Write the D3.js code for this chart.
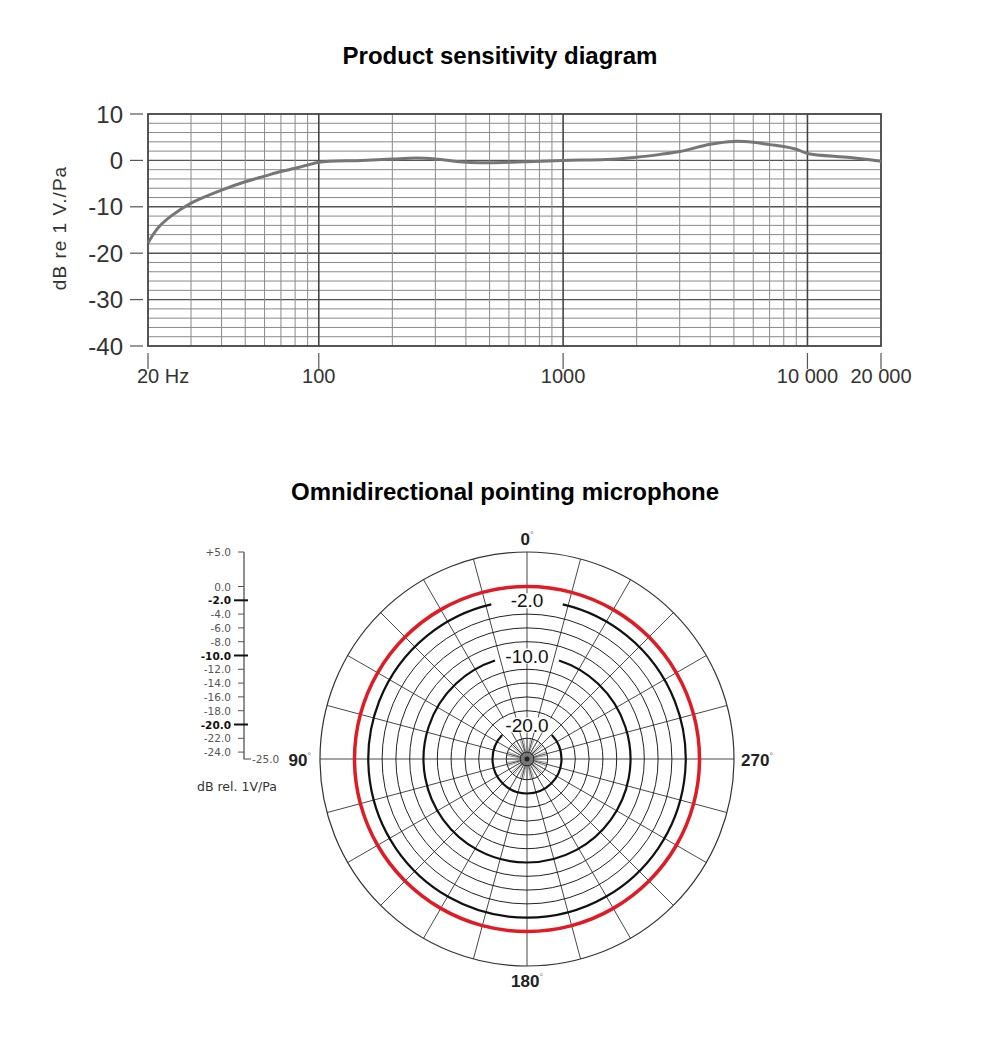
<!DOCTYPE html>
<html lang="en">
<head>
<meta charset="UTF-8">
<title>Microphone sensitivity</title>
<script src="https://d3js.org/d3.v7.min.js"></script>
<style>
    body { margin: 0; background: #fff; font-family: "Liberation Sans", Arial, sans-serif; }
    svg { display: block; }
</style>
</head>
<body>
<div id="chart"></div>
<script>
// Frequency response (Hz -> dB re 1 V/Pa)
const freqs = [20, 22, 25, 30, 40, 50, 60, 70, 80, 90, 100, 150, 200, 250, 300, 400, 500, 700,
               1000, 1500, 2000, 2500, 3000, 4000, 5000, 6000, 7000, 8000, 9000, 10000, 15000, 20000];
const sens = [-17.8, -14.5, -11.9, -9.2, -6.4, -4.6, -3.4, -2.4, -1.7, -1.0, -0.4, 0.0, 0.3, 0.5, 0.3, -0.4, -0.5, -0.3,
              0.0, 0.2, 0.7, 1.3, 1.9, 3.5, 4.1, 3.9, 3.4, 3.0, 2.4, 1.5, 0.6, -0.2];
const yTicks = [10, 0, -10, -20, -30, -40];
const xTicks = [20, 100, 1000, 10000, 20000];
const xTickLabels = ["20 Hz", "100", "1000", "10 000", "20 000"];

// Polar pattern (angle deg -> dB)
const polarAngles = [0, 15, 30, 45, 60, 75, 90, 105, 120, 135, 150, 165, 180,
                     195, 210, 225, 240, 255, 270, 285, 300, 315, 330, 345];
const polarResp = [0, 0, 0, 0, 0, 0, 0, 0, 0, 0, 0, 0, 0,
                   0, 0, 0, 0, 0, 0, 0, 0, 0, 0, 0];
const ringsThin = [-4, -6, -8, -12, -14, -16, -18, -22, -24];
const ringsBold = [-2, -10, -20];
const ringBoldLabels = ["-2.0", "-10.0", "-20.0"];
const ringGapDeg = [13, 18, 46];
const scaleTicks = [5, 0, -2, -4, -6, -8, -10, -12, -14, -16, -18, -20, -22, -24];
const scaleLabels = ["+5.0", "0.0", "-2.0", "-4.0", "-6.0", "-8.0", "-10.0", "-12.0", "-14.0", "-16.0", "-18.0", "-20.0", "-22.0", "-24.0"];
const angleLabels = [{t: "0", a: 0}, {t: "90", a: 90}, {t: "180", a: 180}, {t: "270", a: 270}];

const W = 1000, H = 1039;
const svg = d3.select("#chart").append("svg").attr("width", W).attr("height", H);

// ---------- Top: sensitivity diagram ----------
svg.append("text")
    .attr("x", 500).attr("y", 64)
    .attr("text-anchor", "middle")
    .style("font-size", "24px").style("font-weight", "bold").style("fill", "#000")
    .text("Product sensitivity diagram");

const x = d3.scaleLog().domain([20, 20000]).range([148, 881]);
const y = d3.scaleLinear().domain([-40, 10]).range([346, 114]);

const grid = svg.append("g");

// horizontal grid every 2 dB
d3.range(-38, 10, 2).forEach(v => {
    grid.append("line")
        .attr("x1", x(20)).attr("x2", x(20000))
        .attr("y1", y(v)).attr("y2", y(v))
        .attr("stroke", v % 10 === 0 ? "#555" : "#8a8a8a")
        .attr("stroke-width", v % 10 === 0 ? 1.4 : 1);
});

// vertical grid: 2..9 multiples of each decade
const minorF = [];
[10, 100, 1000, 10000].forEach(dec => {
    for (let m = 1; m <= 9; m++) {
        const f = dec * m;
        if (f > 20 && f < 20000) minorF.push(f);
    }
});
minorF.forEach(f => {
    const major = [100, 1000, 10000].includes(f);
    grid.append("line")
        .attr("x1", x(f)).attr("x2", x(f))
        .attr("y1", y(10)).attr("y2", y(-40))
        .attr("stroke", major ? "#444" : "#8a8a8a")
        .attr("stroke-width", major ? 1.6 : 1);
});

// frame
svg.append("rect")
    .attr("x", x(20)).attr("y", y(10))
    .attr("width", x(20000) - x(20)).attr("height", y(-40) - y(10))
    .attr("fill", "none").attr("stroke", "#444").attr("stroke-width", 1.8);

// y ticks and labels
yTicks.forEach(v => {
    svg.append("line")
        .attr("x1", 130).attr("x2", 143)
        .attr("y1", y(v)).attr("y2", y(v))
        .attr("stroke", "#555").attr("stroke-width", 1.2);
    svg.append("text")
        .attr("x", 123).attr("y", y(v) + 8.5)
        .attr("text-anchor", "end")
        .style("font-size", "24px").style("fill", "#333")
        .text(v);
});

// x ticks and labels
xTicks.forEach((f, i) => {
    svg.append("line")
        .attr("x1", x(f)).attr("x2", x(f))
        .attr("y1", 353).attr("y2", 369)
        .attr("stroke", "#555").attr("stroke-width", 1.2);
    svg.append("text")
        .attr("x", i === 0 ? x(f) - 11 : x(f)).attr("y", 383)
        .attr("text-anchor", i === 0 ? "start" : "middle")
        .style("font-size", "20px").style("fill", "#333")
        .text(xTickLabels[i]);
});

svg.append("text")
    .attr("transform", "translate(66,228) rotate(-90)")
    .attr("text-anchor", "middle")
    .style("font-size", "19px").style("letter-spacing", "1px").style("fill", "#333")
    .text("dB re 1 V./Pa");

const line = d3.line()
    .x((d, i) => x(freqs[i]))
    .y(d => y(d))
    .curve(d3.curveCatmullRom.alpha(0.5));

svg.append("path")
    .datum(sens)
    .attr("d", line)
    .attr("fill", "none")
    .attr("stroke", "#767676")
    .attr("stroke-width", 3);

// ---------- Bottom: polar pattern ----------
svg.append("text")
    .attr("x", 505).attr("y", 500)
    .attr("text-anchor", "middle")
    .style("font-size", "24px").style("font-weight", "bold").style("fill", "#000")
    .text("Omnidirectional pointing microphone");

const cx = 527, cy = 759;
const r = d3.scaleLinear().domain([-25, 5]).range([0, 207]);
const polar = svg.append("g").attr("transform", `translate(${cx},${cy})`);

// spokes every 15 deg
polarAngles.forEach(a => {
    const t = a * Math.PI / 180;
    polar.append("line")
        .attr("x1", 0).attr("y1", 0)
        .attr("x2", r(5) * Math.sin(t)).attr("y2", -r(5) * Math.cos(t))
        .attr("stroke", "#333").attr("stroke-width", 0.9);
});
// dense inner spokes
d3.range(0, 360, 10).forEach(a => {
    const t = a * Math.PI / 180;
    polar.append("line")
        .attr("x1", 0).attr("y1", 0)
        .attr("x2", r(-22) * Math.sin(t)).attr("y2", -r(-22) * Math.cos(t))
        .attr("stroke", "#555").attr("stroke-width", 0.6);
});
polar.append("circle").attr("r", 6).attr("fill", "#777");
polar.append("circle").attr("r", 2.5).attr("fill", "#222");

// outer ring
polar.append("circle").attr("r", r(5))
    .attr("fill", "none").attr("stroke", "#333").attr("stroke-width", 1.2);

ringsThin.forEach(v => {
    polar.append("circle").attr("r", r(v))
        .attr("fill", "none").attr("stroke", "#222").attr("stroke-width", 1);
});

ringsBold.forEach((v, i) => {
    const g = ringGapDeg[i] * Math.PI / 180;
    const p = d3.path();
    p.arc(0, 0, r(v), -Math.PI / 2 + g, 3 * Math.PI / 2 - g);
    polar.append("path")
        .attr("d", p.toString())
        .attr("fill", "none").attr("stroke", "#111").attr("stroke-width", 2.2);
    const lbl = polar.append("text")
        .attr("x", 0).attr("y", -r(v) + 7)
        .attr("text-anchor", "middle")
        .style("font-size", "19px").style("fill", "#111")
        .text(ringBoldLabels[i]);
    const bb = lbl.node().getBBox();
    polar.insert("rect", "text")
        .attr("x", bb.x - 2).attr("y", bb.y + 3)
        .attr("width", bb.width + 4).attr("height", bb.height - 6)
        .attr("fill", "#fff");
});
// keep labels above the white boxes
polar.selectAll("text").raise();

// response curve (0 dB, omnidirectional)
const radial = d3.lineRadial()
    .angle((d, i) => polarAngles[i] * Math.PI / 180)
    .radius(d => r(d))
    .curve(d3.curveCardinalClosed);
polar.append("path")
    .datum(polarResp)
    .attr("d", radial)
    .attr("fill", "none")
    .attr("stroke", "#e01b24")
    .attr("stroke-width", 3.5);

// angle labels
angleLabels.forEach(d => {
    let tx = 0, ty = 0, anchor = "middle";
    if (d.a === 0) { ty = -r(5) - 7; }
    if (d.a === 180) { ty = r(5) + 21; }
    if (d.a === 90) { tx = -r(5) - 9; ty = 7; anchor = "end"; }
    if (d.a === 270) { tx = r(5) + 7; ty = 7; anchor = "start"; }
    const t = polar.append("text")
        .attr("x", tx).attr("y", ty)
        .attr("text-anchor", anchor)
        .style("font-size", "17px").style("font-weight", "bold").style("fill", "#222");
    t.append("tspan").text(d.t);
    t.append("tspan").attr("dy", -7).style("font-size", "9px").style("font-weight", "normal")
        .style("fill", "#777").text("°");
});

// left dB scale
const sx = 244;
const scale = svg.append("g").style("font-family", "'DejaVu Sans', sans-serif");
scale.append("path")
    .attr("d", `M${sx},${cy - r(5)} L${sx},${cy} L${sx + 7},${cy}`)
    .attr("fill", "none").attr("stroke", "#444").attr("stroke-width", 1.2);
scaleTicks.forEach((v, i) => {
    const bold = ringsBold.includes(v);
    const ty = cy - r(v);
    scale.append("line")
        .attr("x1", bold ? sx - 10 : sx - 6).attr("x2", bold ? sx + 4 : sx)
        .attr("y1", ty).attr("y2", ty)
        .attr("stroke", bold ? "#111" : "#555").attr("stroke-width", bold ? 2 : 1);
    scale.append("text")
        .attr("x", sx - 13).attr("y", ty + 4)
        .attr("text-anchor", "end")
        .style("font-size", "10.5px")
        .style("font-weight", bold ? "bold" : "normal")
        .style("fill", bold ? "#111" : "#555")
        .text(scaleLabels[i]);
});
scale.append("text")
    .attr("x", sx + 8).attr("y", cy + 4)
    .style("font-size", "10.5px").style("fill", "#555")
    .text("-25.0");
scale.append("text")
    .attr("x", 197).attr("y", 791)
    .style("font-size", "12.5px").style("fill", "#333")
    .text("dB rel. 1V/Pa");
</script>
</body>
</html>
